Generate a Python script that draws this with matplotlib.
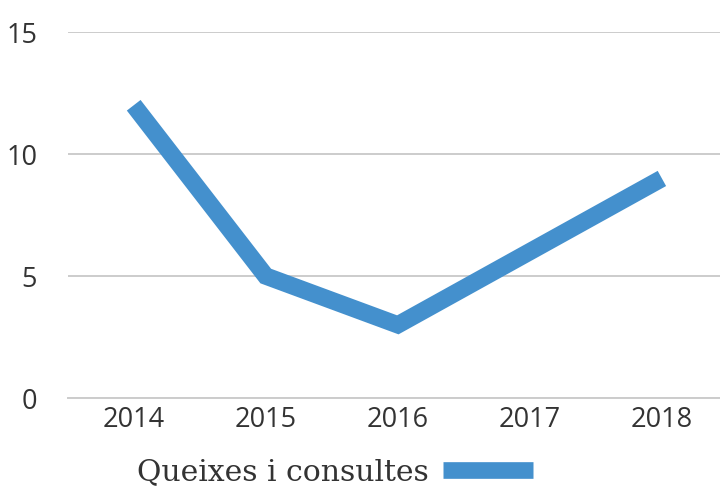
import matplotlib.pyplot as plt
from matplotlib.lines import Line2D

years = ["2014", "2015", "2016", "2017", "2018"]
queixes = [12, 5, 3, 6, 9]
yticks = [0, 5, 10, 15]

line_col = "#4490cd"
grid_col = "#cccccc"
text_col = "#333333"

fig = plt.figure(figsize=(7.2, 4.86), dpi=100)
ax = fig.add_axes([0.094, 0.181, 0.906, 0.753])

x = list(range(len(years)))
ax.plot(x, queixes, color=line_col, linewidth=12.5, solid_capstyle="butt",
        solid_joinstyle="miter", zorder=3)

ax.set_xlim(-0.5, 4.44)
ax.set_ylim(0, 15)
ax.set_yticks(yticks)
ax.set_yticklabels([str(v) for v in yticks], fontsize=19.5, color=text_col,
                   family="Open Sans")
ax.set_xticks(x)
ax.set_xticklabels(years, fontsize=19.5, color=text_col, family="Open Sans")
ax.set_xticks(x[:-1], minor=True)

ax.tick_params(axis="y", length=0, pad=22)
ax.tick_params(axis="x", which="major", length=0, pad=6)
ax.tick_params(axis="x", which="minor", length=7, width=1.2, color=grid_col,
               direction="in")

ax.yaxis.grid(True, color=grid_col, linewidth=1.4)
ax.set_axisbelow(True)
for s in ["top", "right", "left"]:
    ax.spines[s].set_visible(False)
ax.spines["bottom"].set_color(grid_col)
ax.spines["bottom"].set_linewidth(1.4)

handle = Line2D([0], [0], color=line_col, linewidth=12, solid_capstyle="butt")
fig.legend([handle], ["Queixes i consultes"], loc="center",
           bbox_to_anchor=(0.465, 0.028), frameon=False, markerfirst=False,
           handlelength=3.0, handletextpad=0.5,
           prop={"family": "DejaVu Serif", "size": 21.5}, labelcolor=text_col)

fig.savefig("out.png", dpi=100)
